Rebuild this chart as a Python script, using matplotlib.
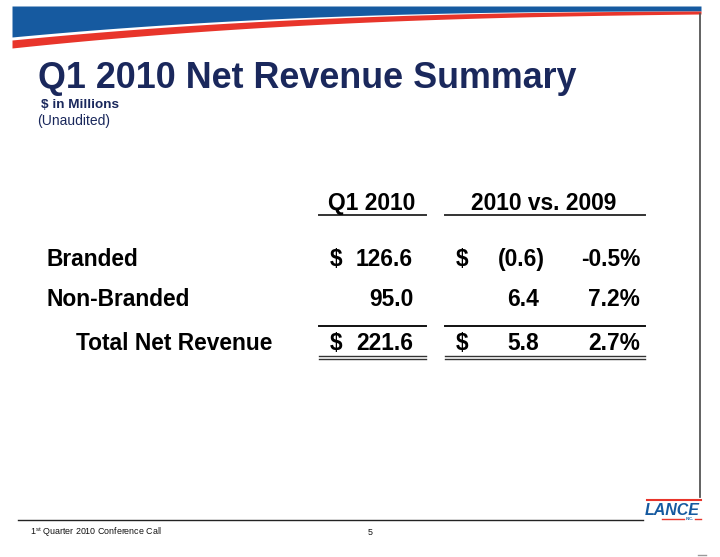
import numpy as np
import matplotlib.pyplot as plt

plt.rcParams['font.family'] = ['Liberation Sans', 'DejaVu Sans']
plt.rcParams['mathtext.fontset'] = 'custom'
plt.rcParams['mathtext.rm'] = 'Liberation Sans'

# table data ($ in millions)
rows = ['Branded', 'Non-Branded', 'Total Net Revenue']
q1_2010 = [126.6, 95.0, 221.6]
chg_dollar = [-0.6, 6.4, 5.8]
chg_pct = [-0.5, 7.2, 2.7]
show_dollar = [True, False, True]
col_headers = ['Q1 2010', '2010 vs. 2009']

navy = '#1a285c'
blue = '#165aa0'
red = '#e8352b'

fig = plt.figure(figsize=(7.2, 5.57), dpi=100)
ax = fig.add_axes([0, 0, 1, 1])
ax.set_xlim(0, 720)
ax.set_ylim(557, 0)
ax.axis('off')

# header swoosh
x = np.linspace(12, 701, 400)
t = (701 - x) / 689
yb = 11 + 26 * t ** 2.5
ax.fill_between(x, 6, yb, color=blue, lw=0)
rtop = yb + 3 * t
ax.fill_between(x, rtop, rtop + 3 + 5 * t, color=red, lw=0)

# frame lines
ax.plot([700, 700], [14, 497], color='#555555', lw=1.3)
ax.plot([18, 643], [519.5, 519.5], color='#222222', lw=1.0)
ax.plot([698, 706], [555, 555], color='#999999', lw=1.0)

# logo
ax.plot([647, 701], [500, 500], color=red, lw=1.5)
ax.text(672, 515, 'LANCE', fontsize=11.5, fontweight='bold', style='italic',
        color=blue, ha='center', va='baseline')
ax.plot([662, 684], [518.5, 518.5], color=red, lw=1.0)
ax.plot([695, 701], [518.5, 518.5], color=red, lw=1.0)
ax.text(689.5, 520, 'INC.', fontsize=3, fontweight='bold', color=blue,
        ha='center', va='baseline')

# titles
ax.text(38, 88, 'Q1 2010 Net Revenue Summary', fontsize=25.8, fontweight='bold',
        color=navy, va='baseline')
ax.text(41, 108, '$ in Millions', fontsize=9.7, fontweight='bold', color=navy,
        va='baseline')
ax.text(37, 125, '(Unaudited)', fontsize=10, color=navy, va='baseline')

# footer
ax.text(30, 535, r'1$^{\mathrm{st}}$ Quarter 2010 Conference Call', fontsize=6.4,
        color='#111111', va='baseline')
ax.text(368, 535, '5', fontsize=6.4, color='#111111', va='baseline')

# table
fs = 16.4
ax.text(372, 210, col_headers[0], fontsize=fs, fontweight='bold', ha='center',
        va='baseline')
ax.text(544, 210, col_headers[1], fontsize=fs, fontweight='bold', ha='center',
        va='baseline')
for x0, x1 in [(319, 426), (445, 645)]:
    ax.plot([x0, x1], [214.5, 214.5], color='#333333', lw=1.4)
    ax.plot([x0, x1], [326, 326], color='#111111', lw=1.4)
    ax.plot([x0, x1], [355.5, 355.5], color='#333333', lw=1.0)
    ax.plot([x0, x1], [358.5, 358.5], color='#333333', lw=1.0)

row_y = [266, 306, 350]
label_x = [47, 47, 76]
for i, name in enumerate(rows):
    y = row_y[i]
    ax.text(label_x[i], y, name, fontsize=fs, fontweight='bold', va='baseline')
    if show_dollar[i]:
        ax.text(330, y, '$', fontsize=fs, fontweight='bold', va='baseline')
        ax.text(456, y, '$', fontsize=fs, fontweight='bold', va='baseline')
    ax.text(413, y, '%.1f' % q1_2010[i], fontsize=fs, fontweight='bold',
            ha='right', va='baseline')
    v = chg_dollar[i]
    if v < 0:
        ax.text(545, y, '(%.1f)' % abs(v), fontsize=fs, fontweight='bold',
                ha='right', va='baseline')
    else:
        ax.text(539, y, '%.1f' % v, fontsize=fs, fontweight='bold',
                ha='right', va='baseline')
    ax.text(640, y, '%.1f%%' % chg_pct[i], fontsize=fs, fontweight='bold',
            ha='right', va='baseline')

fig.savefig('out.png', dpi=100)
